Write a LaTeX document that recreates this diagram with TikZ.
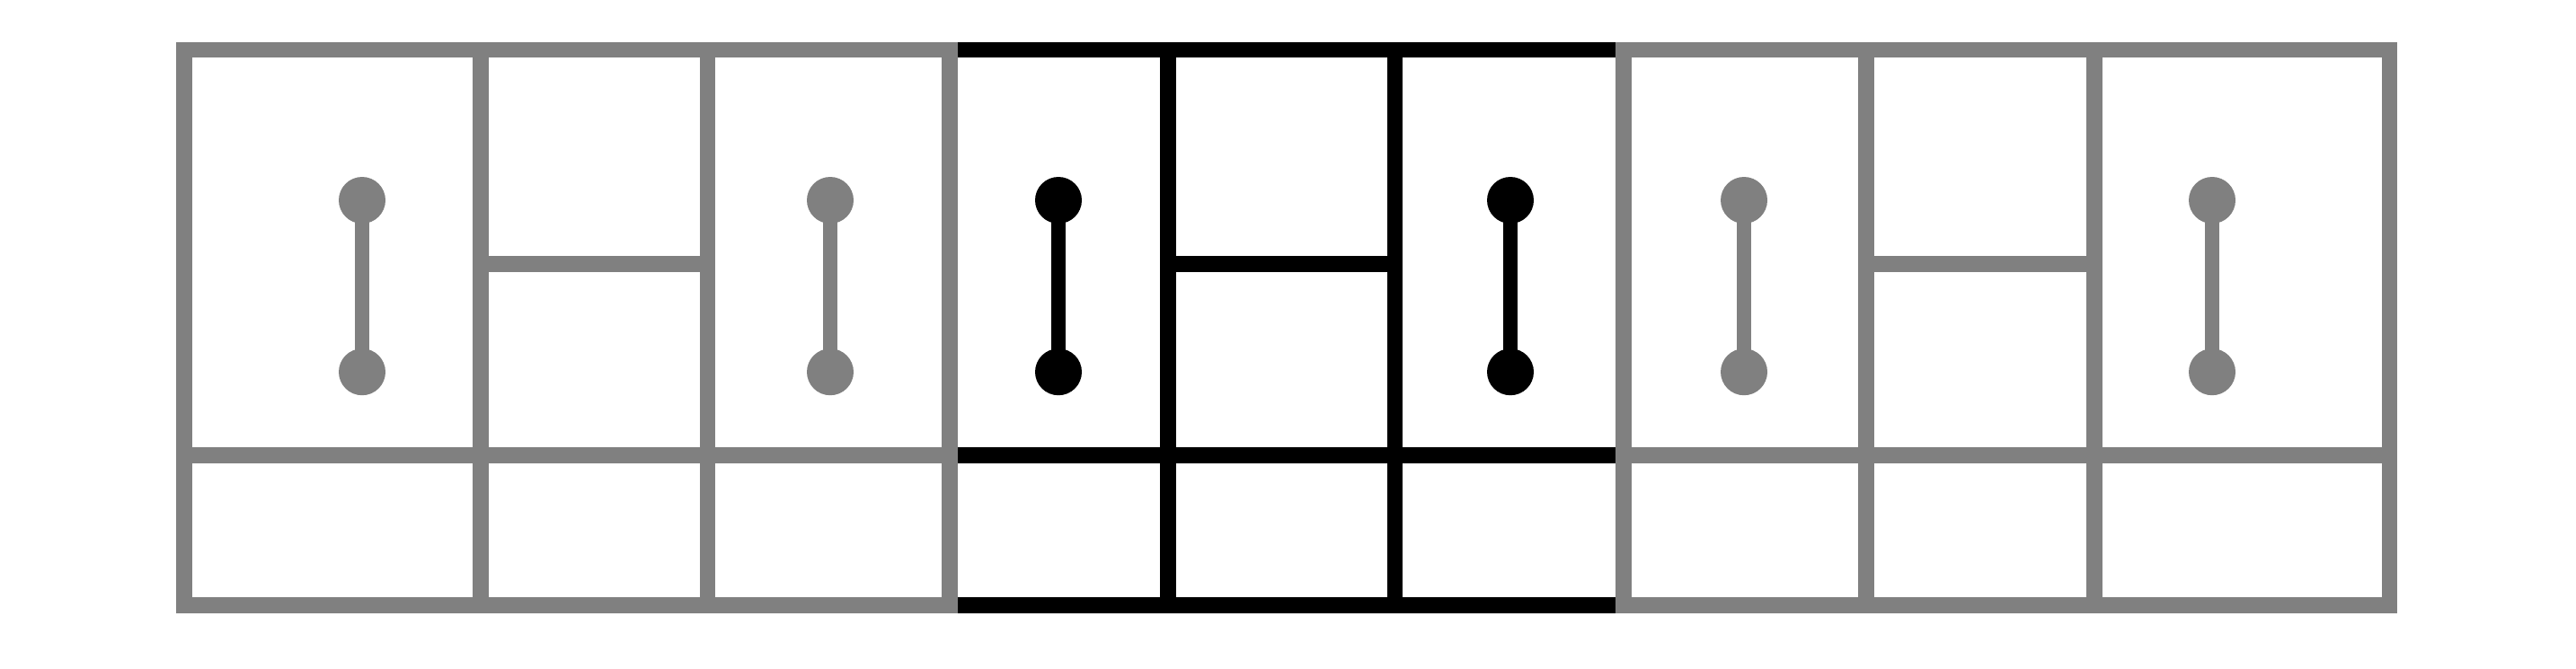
\documentclass[tikz,border=0pt]{standalone}
\usetikzlibrary{positioning}

\begin{document}
\begin{tikzpicture}[
    frame/.style={draw=#1, line width=5pt},
    knob/.style={circle, fill=#1, inner sep=0pt, minimum size=0.52cm},
    handle/.style={draw=#1, line width=4.8pt},
  ]
  \useasboundingbox (0,0) rectangle (28.67,7.44);

  % middle cabinet
  \draw [frame=black] (10.57,0.702) rectangle (18.07,6.887);
  \draw [frame=black] (13.00,0.702) -- (13.00,6.887);
  \draw [frame=black] (15.525,0.702) -- (15.525,6.887);
  \draw [frame=black] (10.57,2.37) -- (18.07,2.37);
  \draw [frame=black] (13.00,4.50) -- (15.525,4.50);

  % left cabinet
  \draw [frame=gray] (2.05,0.702) rectangle (10.57,6.887);
  \draw [frame=gray] (5.35,0.702) -- (5.35,6.887);
  \draw [frame=gray] (7.875,0.702) -- (7.875,6.887);
  \draw [frame=gray] (2.05,2.37) -- (10.57,2.37);
  \draw [frame=gray] (5.35,4.50) -- (7.875,4.50);

  % right cabinet
  \draw [frame=gray] (18.07,0.702) rectangle (26.595,6.887);
  \draw [frame=gray] (20.77,0.702) -- (20.77,6.887);
  \draw [frame=gray] (23.31,0.702) -- (23.31,6.887);
  \draw [frame=gray] (18.07,2.37) -- (26.595,2.37);
  \draw [frame=gray] (20.77,4.50) -- (23.31,4.50);

  % handles
  \node [knob=gray] (H1T) at (4.03,5.21) {};
  \node [knob=gray, below=1.378cm of H1T] (H1B) {};
  \node [knob=gray] (H2T) at (9.24,5.21) {};
  \node [knob=gray, below=1.378cm of H2T] (H2B) {};
  \node [knob=black] (H3T) at (11.78,5.21) {};
  \node [knob=black, below=1.378cm of H3T] (H3B) {};
  \node [knob=black] (H4T) at (16.81,5.21) {};
  \node [knob=black, below=1.378cm of H4T] (H4B) {};
  \node [knob=gray] (H5T) at (19.41,5.21) {};
  \node [knob=gray, below=1.378cm of H5T] (H5B) {};
  \node [knob=gray] (H6T) at (24.62,5.21) {};
  \node [knob=gray, below=1.378cm of H6T] (H6B) {};

  \draw [handle=gray] (H1T.center) -- (H1B.center);
  \draw [handle=gray] (H2T.center) -- (H2B.center);
  \draw [handle=black] (H3T.center) -- (H3B.center);
  \draw [handle=black] (H4T.center) -- (H4B.center);
  \draw [handle=gray] (H5T.center) -- (H5B.center);
  \draw [handle=gray] (H6T.center) -- (H6B.center);

\end{tikzpicture}
\end{document}
